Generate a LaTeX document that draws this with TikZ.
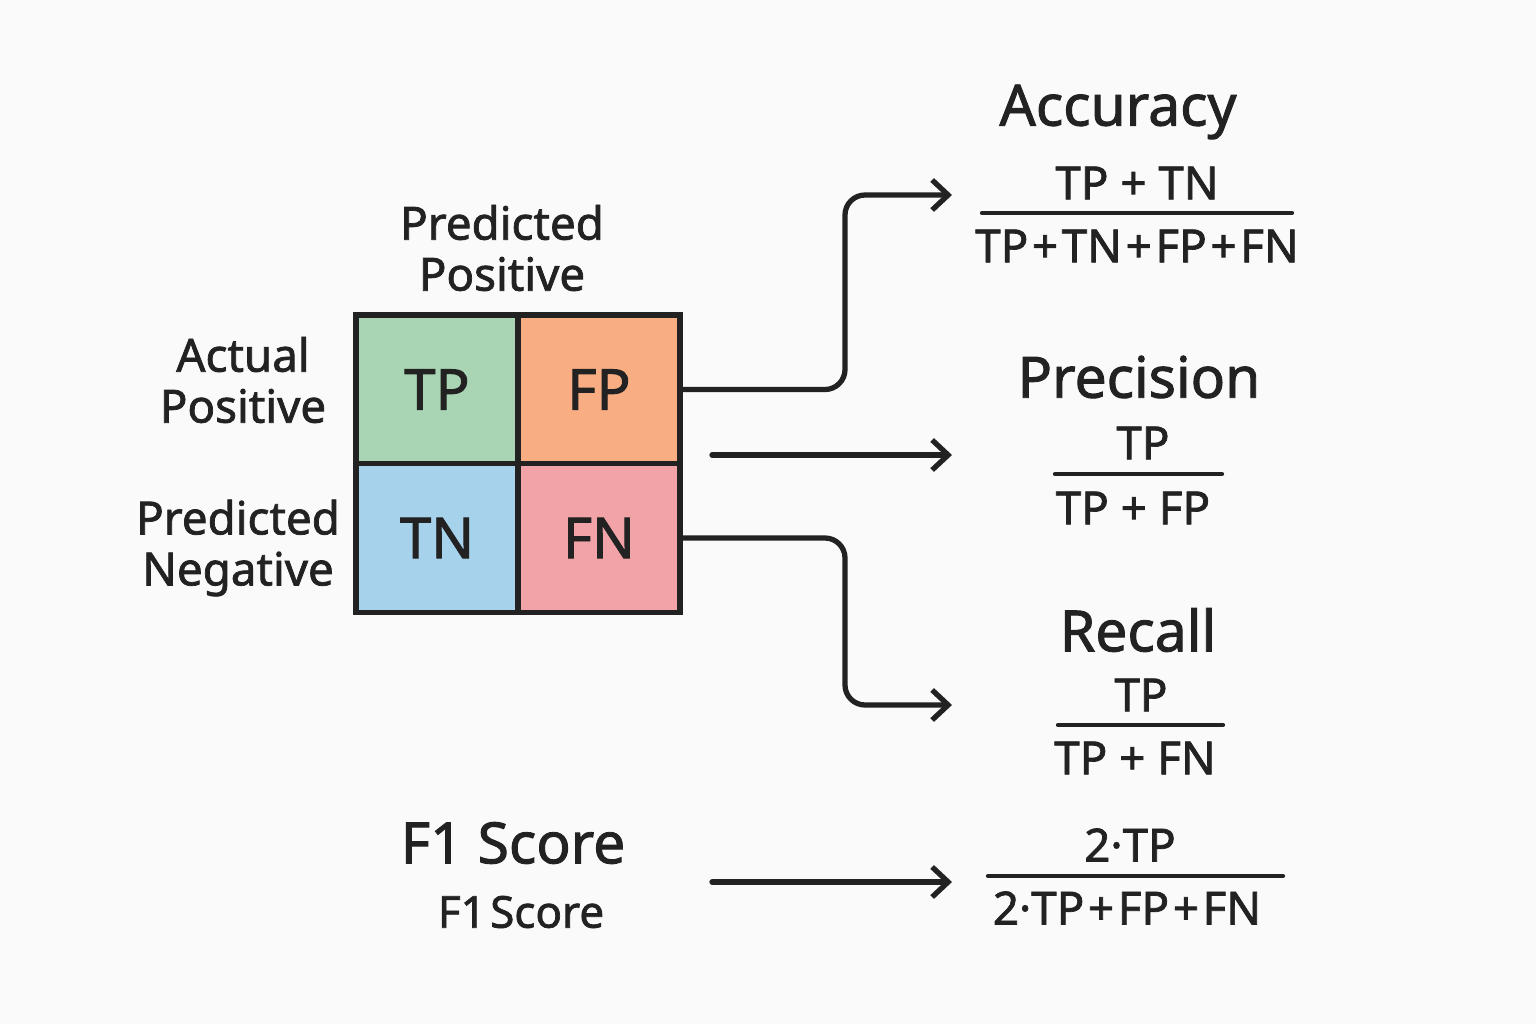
\documentclass[tikz,border=0pt]{standalone}
\usepackage{fontspec}
\setmainfont{Noto Sans}[RawFeature={embolden=1.6}]
\usetikzlibrary{arrows.meta}
\definecolor{tpgreen}{HTML}{A9D5B4}
\definecolor{fporange}{HTML}{F8AE82}
\definecolor{tnblue}{HTML}{A6D2EC}
\definecolor{fnpink}{HTML}{F2A3A7}
\definecolor{ink}{HTML}{222222}
\definecolor{paper}{HTML}{FAFAFA}
\newcommand{\plus}{\hspace{0.08em}+\hspace{0.08em}}
\begin{document}
\begin{tikzpicture}[x=0.01cm,y=-0.01cm]
\tikzstyle{cell}=[draw=ink, line width=1.5pt, minimum width=1.62cm, minimum height=1.49cm, inner sep=0pt, text=ink, font=\fontsize{16}{18}\selectfont]
\tikzstyle{label}=[align=center, text=ink, font=\fontsize{13}{14.5}\selectfont]
\tikzstyle{title}=[text=ink, font=\fontsize{16.2}{20}\selectfont]
\tikzstyle{term}=[text=ink, inner sep=0pt, font=\fontsize{13}{15}\selectfont]
\tikzstyle{bar}=[draw=ink, line width=1.2pt, line cap=round]
\tikzstyle{conn}=[draw=ink, line width=1.5pt, line cap=round, rounded corners=0.2cm, -{Straight Barb[length=0.16cm, width=0.3cm, line width=1.5pt]}]
\fill[paper] (0,0) rectangle (1536,1024);
\useasboundingbox (0,0) rectangle (1536,1024);
% confusion matrix
\node[cell, fill=tpgreen] (tp) at (437,389.5) {TP};
\node[cell, fill=fporange] (fp) at (599,389.5) {FP};
\node[cell, fill=tnblue] (tn) at (437,538) {TN};
\node[cell, fill=fnpink] (fn) at (599,538) {FN};
\node[label] (predpos) at (502,248) {Predicted\\Positive};
\node[label] (actpos) at (243,380) {Actual\\Positive};
\node[label] (predneg) at (238,548) {Predicted\\Negative};
% metrics
\node[title] (acc) at (1118,112) {Accuracy};
\node[term] (accnum) at (1137,183) {TP + TN};
\node[term] (accden) at (1137,246) {TP\plus TN\plus FP\plus FN};
\draw[bar] (982,213) -- (1292,213);
\node[title] (prec) at (1139,377) {Precision};
\node[term] (precnum) at (1143,443) {TP};
\node[term] (precden) at (1133,508) {TP + FP};
\draw[bar] (1055,474) -- (1222,474);
\node[title] (rec) at (1138,630) {Recall};
\node[term] (recnum) at (1141,695) {TP};
\node[term] (recden) at (1135,758) {TP + FN};
\draw[bar] (1058,725) -- (1223,725);
\node[title] (fone) at (513,843) {F1 Score};
\node[text=ink, font=\fontsize{12.5}{14}\selectfont] (fonesub) at (521,912) {F1\hspace{0.1em}Score};
\node[term] (fonenum) at (1130,845) {2·TP};
\node[term] (foneden) at (1127,908) {2·TP\plus FP\plus FN};
\draw[bar] (988,876) -- (1283,876);
% connectors
\coordinate (accin) at (952,195);
\coordinate (precout) at (712,455);
\coordinate (precin) at (952,455);
\coordinate (recin) at (952,705);
\coordinate (foneout) at (712,882);
\coordinate (fonein) at (952,882);
\draw[conn] (fp.east) -- (845,389.5) -- (845,195) -- (accin);
\draw[conn] (precout) -- (precin);
\draw[conn] (fn.east) -- (845,538) -- (845,705) -- (recin);
\draw[conn] (foneout) -- (fonein);
\end{tikzpicture}
\end{document}
